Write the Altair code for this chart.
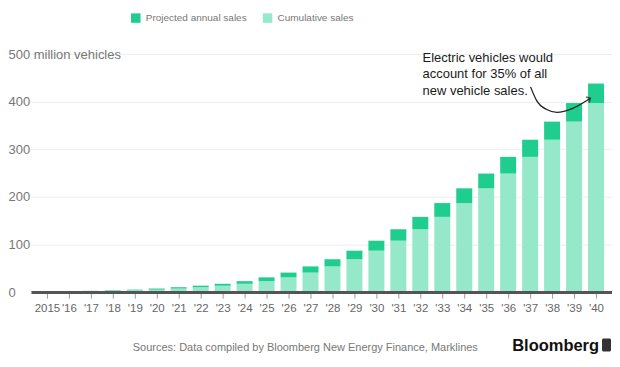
import altair as alt
import pandas as pd

years = list(range(2015, 2041))
cumulative = [0.7, 1.2, 1.9, 2.7, 3.8, 5.2, 7.5, 10.3, 13.5, 17.5, 23, 31, 41, 54, 69,
              87, 108, 132, 158, 187, 218, 249, 284, 320, 358, 397]
annual = [0.5, 0.7, 0.8, 1.1, 1.4, 2.3, 2.8, 3.2, 4.0, 5.5, 8, 10, 13, 15, 18,
          21, 24, 26, 29, 31, 31, 35, 36, 38, 39, 41]
series = ["Projected annual sales", "Cumulative sales"]
colors = ["#1fcd8e", "#95e8c9"]
y_ticks = [0, 100, 200, 300, 400, 500]

note_text = ["Electric vehicles would", "account for 35% of all", "new vehicle sales."]
note_x = [2032.1]
note_y = [484]
arrow_x = [2037.02, 2037.29, 2037.73, 2038.22, 2038.94, 2039.74]
arrow_y = [431.0, 402.7, 383.9, 377.6, 386.0, 407.3]
source_text = "Sources: Data compiled by Bloomberg New Energy Finance, Marklines"
brand_text = "Bloomberg"

rows = []
for yr, c, a in zip(years, cumulative, annual):
    rows.append({"year": yr, "series": "Cumulative sales", "y0": 0, "y1": c})
    rows.append({"year": yr, "series": "Projected annual sales", "y0": c, "y1": c + a})
df = pd.DataFrame(rows)

xscale = alt.Scale(domain=[2014.5, 2040.5], nice=False, zero=False)
yscale = alt.Scale(domain=[0, 500], nice=False)

x_axis = alt.Axis(
    values=years, title=None, grid=False, labelOverlap=False,
    labelExpr="datum.value == 2015 ? '2015' : \"'\" + substring(toString(datum.value), 2)",
    domainColor="#555", domainWidth=3, tickColor="#999", tickSize=6, tickWidth=1,
    labelColor="#666", labelFontSize=11.5, labelPadding=4, labelFlush=False, zindex=1)
y_axis = alt.Axis(
    values=y_ticks, title=None, domain=False, ticks=False,
    labelExpr="datum.value == 500 ? '500 million vehicles' : datum.label",
    labelAlign="left", labelPadding=23, labelBaseline="middle", labelOverlap=False,
    labelColor="#777", labelFontSize=13, gridColor="#eaf0f0", gridWidth=1)

bars = alt.Chart(df).mark_bar(size=16).encode(
    x=alt.X("year:Q", scale=xscale, axis=x_axis),
    y=alt.Y("y1:Q", scale=yscale, axis=y_axis),
    y2="y0:Q",
    color=alt.Color("series:N", scale=alt.Scale(domain=series, range=colors),
                    legend=alt.Legend(title=None, orient="none", legendX=100, legendY=-41,
                                      direction="horizontal", symbolType="square",
                                      symbolSize=90, symbolStrokeWidth=0,
                                      labelFontSize=10, labelColor="#777",
                                      labelOffset=5, columnPadding=15)),
)

note = alt.Chart(pd.DataFrame({"x": note_x, "y": note_y, "t": [note_text]})).mark_text(
    align="left", baseline="alphabetic", fontSize=13, color="#1a1a1a", lineHeight=16.5
).encode(x=alt.X("x:Q", scale=xscale, axis=x_axis), y=alt.Y("y:Q", scale=yscale, axis=y_axis), text="t")

arrow_df = pd.DataFrame({"x": arrow_x, "y": arrow_y, "o": list(range(len(arrow_x)))})
arrow = alt.Chart(arrow_df).mark_line(interpolate="monotone", color="#222", strokeWidth=1.3).encode(
    x=alt.X("x:Q", scale=xscale, axis=x_axis), y=alt.Y("y:Q", scale=yscale, axis=y_axis), order="o")
head = alt.Chart(arrow_df.tail(1)).mark_point(
    shape="M -1 1 L 0 0 L 1 1", filled=False, color="#222", strokeWidth=1.5, size=40, angle=60
).encode(x=alt.X("x:Q", scale=xscale, axis=x_axis), y=alt.Y("y:Q", scale=yscale, axis=y_axis))

source = alt.Chart(pd.DataFrame({"t": [source_text]})).mark_text(
    align="left", baseline="middle", fontSize=11, color="#777"
).encode(x=alt.value(102), y=alt.value(294), text="t")
brand = alt.Chart(pd.DataFrame({"t": [brand_text]})).mark_text(
    align="left", baseline="middle", fontSize=16.5, fontWeight="bold", color="#111"
).encode(x=alt.value(482), y=alt.value(292), text="t")
icon = alt.Chart(pd.DataFrame({"t": [1]})).mark_rect(color="#333", cornerRadius=1.5).encode(
    x=alt.value(572), x2=alt.value(581), y=alt.value(285), y2=alt.value(298))

chart = alt.layer(bars, note, arrow, head, source, brand, icon).properties(
    width=582, height=238.5,
    autosize=alt.AutoSizeParams(type="none"),
    padding={"left": 23, "top": 45.8, "right": 0, "bottom": 66},
).configure(font="Liberation Sans").configure_view(stroke=None)

chart.save("out.html", embed_options={"renderer": "svg", "actions": False})
